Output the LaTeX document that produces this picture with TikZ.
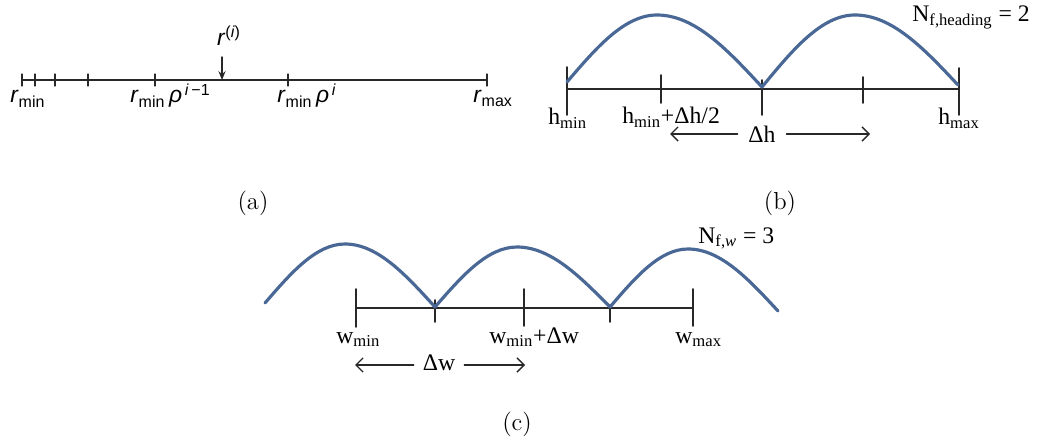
\documentclass[tikz,border=0pt]{standalone}
\usepackage{fontspec}
\newfontfamily\sanslbl{Liberation Sans}
\newfontfamily\seriflbl{Liberation Serif}
\usetikzlibrary{arrows.meta}
\definecolor{archblue}{RGB}{74,104,150}
\definecolor{axisgray}{RGB}{40,40,40}
\begin{document}
\begin{tikzpicture}[x=0.02cm,y=-0.02cm,line cap=round,line join=round,
  axis/.style={draw=axisgray,line width=1pt},
  arch/.style={draw=archblue,line width=1.8pt},
  barb/.style={draw=axisgray,line width=0.8pt,-{Straight Barb[length=4pt,width=8pt]}},
  rlabel/.style={font=\sanslbl\fontsize{13}{15}\selectfont,inner sep=0pt},
  slabel/.style={font=\seriflbl\fontsize{13.5}{16}\selectfont,inner sep=0pt},
  caption/.style={font=\fontsize{14}{17}\selectfont,inner sep=0pt}]
  \useasboundingbox (0,0) rectangle (1037,442);

  % (a) log-spaced radial grid
  \coordinate (rA) at (22,80);
  \coordinate (rB) at (487,80);
  \coordinate (rC) at (88,80);
  \coordinate (rD) at (418,80);
  \draw[axis,line width=0.7pt] (rA) -- (rB);
  \draw[axis,line width=1.2pt] (rC) -- (rD);
  \foreach \x in {22,35,55,88,155,288,487}
    \draw[axis,line width=0.7pt] (\x,74) -- (\x,86);
  \node[rlabel] (ri) at (229,36) {\textit{r}\textsuperscript{(\textit{i})}};
  \coordinate (rtop) at (222,57);
  \coordinate (rhit) at (222,80);
  \draw[axis,line width=0.8pt,-{Stealth[length=5pt,width=4pt]}] (rtop) -- (rhit);
  \node[rlabel,anchor=base west] (rmin) at (10,103) {\textit{r}\textsubscript{min}};
  \node[rlabel,anchor=base west] (rprev) at (130,103) {\textit{r}\textsubscript{min}\,\textit{ρ}\textsuperscript{\,\textit{i}\,−1}};
  \node[rlabel,anchor=base west] (rnext) at (277,103) {\textit{r}\textsubscript{min}\,\textit{ρ}\textsuperscript{\,\textit{i}}};
  \node[rlabel,anchor=base west] (rmax) at (473,103) {\textit{r}\textsubscript{max}};
  \node[caption] (capa) at (253,203) {(a)};

  % (b) heading bins
  \coordinate (hA) at (567,89);
  \coordinate (hB) at (959,89);
  \draw[axis] (hA) -- (hB);
  \draw[axis] (567,67) -- (567,115);
  \draw[axis] (661,75) -- (661,103);
  \draw[axis] (762,80) -- (762,115);
  \draw[axis] (863,77) -- (863,103);
  \draw[axis] (959,68) -- (959,115);
  \draw[arch] (567,82) sin (657,15) cos (762,87) sin (855,15) cos (958,85);
  \node[slabel,anchor=base west] (hmin) at (548,125) {h\textsubscript{min}};
  \node[slabel,anchor=base west] (hhalf) at (622,124) {h\textsubscript{min}+Δh/2};
  \node[slabel,anchor=base west] (hmax) at (938,125) {h\textsubscript{max}};
  \node[slabel,inner xsep=6pt] (dh) at (762,134) {Δh};
  \coordinate (dhL) at (670,134);
  \coordinate (dhR) at (870,134);
  \draw[barb] (dh.west) -- (dhL);
  \draw[barb] (dh.east) -- (dhR);
  \node[slabel,anchor=base west] (nh) at (912,22) {N\textsubscript{f,heading} = 2};
  \node[caption] (capb) at (780,203) {(b)};

  % (c) width bins
  \coordinate (wA) at (356,308);
  \coordinate (wB) at (693,308);
  \draw[axis] (wA) -- (wB);
  \draw[axis] (356,289) -- (356,327);
  \draw[axis] (435,300) -- (435,322);
  \draw[axis] (524,289) -- (524,326);
  \draw[axis] (610,305) -- (610,322);
  \draw[axis] (693,289) -- (693,326);
  \draw[arch] (265,303) sin (345,244) cos (435,307) sin (517,247) cos (610,307)
    sin (688,249) cos (778,311);
  \node[slabel,anchor=base west] (wmin) at (336,343) {w\textsubscript{min}};
  \node[slabel,anchor=base west] (wstep) at (489,343) {w\textsubscript{min}+Δw};
  \node[slabel,anchor=base west] (wmax) at (675,343) {w\textsubscript{max}};
  \node[slabel,inner xsep=5pt] (dw) at (439,363) {Δw};
  \coordinate (dwL) at (355,365);
  \coordinate (dwR) at (525,365);
  \draw[barb] (dw.west |- dwL) -- (dwL);
  \draw[barb] (dw.east |- dwR) -- (dwR);
  \node[slabel,anchor=base west] (nw) at (698,243) {N\textsubscript{f,\textit{w}} = 3};
  \node[caption] (capc) at (517,424) {(c)};
\end{tikzpicture}
\end{document}
